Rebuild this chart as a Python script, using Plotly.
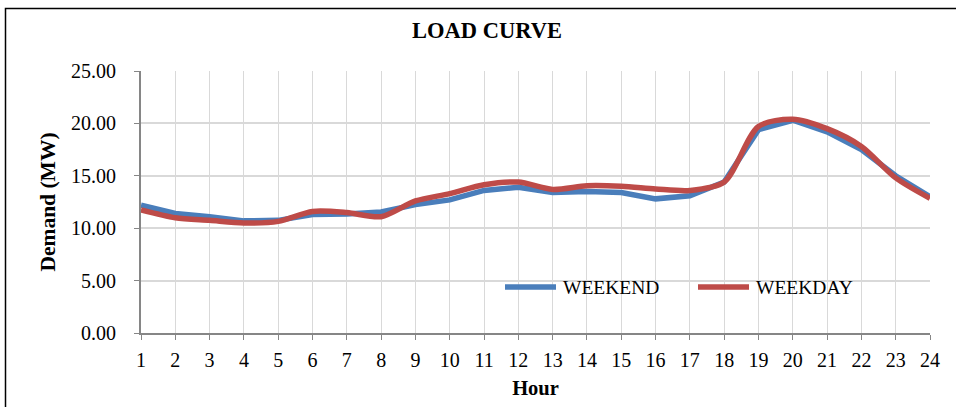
import plotly.graph_objects as go

hours = list(range(1, 25))
weekend = [12.2, 11.4, 11.1, 10.7, 10.75, 11.3, 11.35, 11.55, 12.25, 12.7, 13.6, 13.9,
           13.4, 13.5, 13.4, 12.8, 13.1, 14.4, 19.4, 20.3, 19.2, 17.5, 15.0, 13.0]
weekday = [11.75, 11.0, 10.75, 10.5, 10.65, 11.6, 11.5, 11.1, 12.6, 13.3, 14.15, 14.4,
           13.7, 14.05, 14.0, 13.75, 13.6, 14.4, 19.7, 20.4, 19.5, 17.8, 14.8, 12.85]
y_ticks = [0, 5, 10, 15, 20, 25]
series_names = ["WEEKEND", "WEEKDAY"]
series_colors = ["#4A7EBB", "#BE4B48"]

FONT = "Liberation Serif"

# plot area geometry (pixels) used for paper-coordinate conversions
L, R, T, B = 141, 930, 71, 333
def px(x):
    return (x - L) / (R - L)
def py(y):
    return (B - y) / (B - T)

fig = go.Figure()
fig.add_trace(go.Scatter(x=hours, y=weekend, mode="lines", name=series_names[0], showlegend=False,
                         line=dict(color=series_colors[0], width=5.5, shape="linear")))
fig.add_trace(go.Scatter(x=hours, y=weekday, mode="lines", name=series_names[1], showlegend=False,
                         line=dict(color=series_colors[1], width=5.5, shape="spline", smoothing=0.8)))

fig.update_layout(
    width=956, height=407,
    margin=dict(l=L, r=956 - R, t=T, b=407 - B),
    paper_bgcolor="white", plot_bgcolor="white",
    font=dict(family=FONT, size=20, color="black"),
    title=dict(text="<b>LOAD CURVE</b>", x=487/956, xanchor="center", xref="container",
               y=1-30/407, yanchor="middle", yref="container",
               font=dict(family=FONT, size=22.5, color="black")),
    xaxis=dict(range=[1, 24], tickmode="array", tickvals=hours, ticktext=[str(h) for h in hours],
               showgrid=True, gridcolor="#D9D9D9", gridwidth=1,
               showline=True, linecolor="#868686", linewidth=2,
               ticks="outside", ticklen=5, tickcolor="#868686", tickwidth=1,
               ticklabelstandoff=3, zeroline=False, tickfont=dict(size=20),
               title=dict(text="<b>Hour</b>", font=dict(size=20.5), standoff=11)),
    yaxis=dict(range=[0, 25], tickmode="array", tickvals=y_ticks,
               ticktext=[f"{v:.2f}" for v in y_ticks],
               showgrid=True, gridcolor="#D9D9D9", gridwidth=2,
               showline=True, linecolor="#868686", linewidth=2,
               ticks="outside", ticklen=5, tickcolor="#868686", tickwidth=1,
               ticklabelstandoff=14, zeroline=False, tickfont=dict(size=20),
               title=dict(text="<b>Demand (MW)</b>", font=dict(size=21.5), standoff=9)),
)

# chart border
fig.add_shape(type="rect", xref="paper", yref="paper",
              x0=px(5.5), x1=1.2, y0=-0.5, y1=py(8.5),
              line=dict(color="black", width=1.5), fillcolor="rgba(0,0,0,0)", layer="below")

# legend (inside the plot area, long line samples like the original)
legend_starts = [503, 696]
for name, color, x0 in zip(series_names, series_colors, legend_starts):
    fig.add_shape(type="line", xref="paper", yref="paper",
                  x0=px(x0 + 2), x1=px(x0 + 53), y0=py(287), y1=py(287),
                  line=dict(color=color, width=5.5))
    fig.add_annotation(text=name, xref="paper", yref="paper", x=px(x0 + 58), y=py(287.5),
                       xanchor="left", yanchor="middle", showarrow=False,
                       font=dict(family=FONT, size=19.5, color="black"))

fig.write_html("out.html")
